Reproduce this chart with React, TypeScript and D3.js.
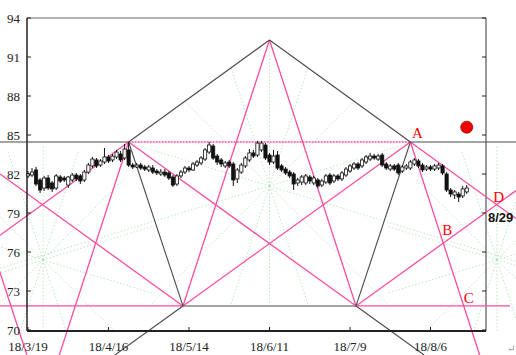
import React from 'react';
import * as d3 from 'd3';

const W = 516;
const H = 355;

// x axis: trading-day index, labelled every 20 sessions
const tickIndex = [0, 20, 40, 60, 80, 100];
const tickDates = ['18/3/19', '18/4/16', '18/5/14', '18/6/11', '18/7/9', '18/8/6'];
const yTicks = [70, 73, 76, 79, 82, 85, 88, 91, 94];

const opens = [81.85, 81.92, 82.31, 81.54, 80.92, 81.69, 81.31, 80.92, 81.77, 81.69,
  81.15, 81.54, 81.92, 81.85, 81.54, 82.15, 82.62, 83.08, 82.69, 82.92,
  83.31, 83.08, 83.31, 83.54, 83.23, 83.85, 82.69, 82.54, 82.69, 82.54,
  82.31, 82.46, 82.23, 82.0, 82.15, 82.08, 81.77, 81.23, 81.85, 82.15,
  82.46, 82.31, 82.69, 82.85, 83.15, 83.69, 84.15, 83.38, 83.08, 82.62,
  82.92, 82.77, 81.62, 82.15, 82.62, 83.08, 83.62, 83.46, 83.85, 84.23,
  83.46, 82.92, 83.46, 82.62, 82.38, 82.15, 82.0, 81.31, 81.38, 81.31,
  81.77, 81.31, 81.54, 81.15, 81.38, 81.92, 81.46, 81.85, 81.62, 81.92,
  82.23, 82.46, 82.77, 82.62, 82.92, 83.15, 83.38, 83.15, 83.46, 82.77,
  82.38, 82.62, 82.69, 82.23, 82.46, 82.46, 82.77, 83.0, 82.69, 82.38,
  82.54, 82.38, 82.46, 82.62, 82.0, 80.77, 80.38, 80.46, 80.31, 80.62];
const closes = [82.0, 82.15, 81.23, 80.77, 81.69, 80.92, 80.85, 81.85, 81.46, 81.54,
  81.77, 81.92, 81.62, 81.46, 82.15, 82.69, 83.15, 82.62, 83.0, 83.31,
  83.0, 83.38, 83.69, 83.08, 83.92, 82.69, 82.54, 82.69, 82.46, 82.38,
  82.54, 82.15, 82.08, 82.15, 81.92, 81.69, 81.15, 81.85, 82.15, 82.46,
  82.31, 82.77, 82.92, 83.23, 83.85, 84.23, 83.23, 82.92, 82.77, 82.85,
  82.62, 81.54, 82.31, 82.69, 83.23, 83.62, 83.38, 84.38, 84.38, 83.23,
  82.92, 83.38, 82.46, 82.31, 82.08, 81.85, 81.23, 81.54, 81.77, 81.85,
  81.46, 81.69, 81.08, 81.46, 81.85, 81.31, 81.85, 81.62, 82.08, 82.38,
  82.62, 82.77, 82.46, 83.08, 83.31, 83.38, 83.23, 83.38, 82.69, 82.46,
  82.62, 82.38, 82.08, 82.54, 82.62, 82.92, 83.08, 82.62, 82.31, 82.54,
  82.38, 82.62, 82.69, 82.08, 80.77, 80.46, 80.62, 80.23, 80.85, 80.92];
const highs = [82.23, 82.46, 82.54, 81.69, 81.85, 81.92, 81.46, 82.0, 81.92, 81.85,
  81.85, 82.08, 82.08, 82.0, 82.31, 82.85, 83.31, 83.23, 83.15, 84.0,
  83.46, 83.54, 83.85, 83.77, 84.31, 84.46, 82.85, 82.85, 82.85, 82.69,
  82.69, 82.69, 82.38, 82.38, 82.38, 82.23, 81.92, 82.0, 82.31, 82.62,
  82.62, 82.92, 83.08, 83.38, 84.0, 84.46, 84.31, 83.54, 83.23, 83.0,
  83.08, 82.92, 82.46, 82.85, 83.38, 83.92, 83.85, 84.54, 84.54, 84.38,
  83.62, 83.85, 83.77, 82.77, 82.54, 82.31, 82.15, 81.69, 81.92, 82.0,
  81.92, 81.85, 81.69, 81.62, 82.0, 82.08, 82.0, 82.0, 82.23, 82.54,
  82.77, 82.92, 82.92, 83.23, 83.46, 83.62, 83.54, 83.54, 83.62, 82.92,
  82.77, 82.77, 82.85, 82.69, 82.77, 83.08, 83.23, 83.15, 82.85, 82.69,
  82.69, 82.77, 82.85, 82.77, 82.15, 80.92, 80.77, 80.62, 81.08, 81.15];
const lows = [81.69, 81.77, 81.08, 80.54, 80.69, 80.77, 80.62, 80.77, 81.31, 81.38,
  80.92, 81.38, 81.46, 81.23, 81.38, 82.0, 82.46, 82.46, 82.54, 82.77,
  82.85, 82.92, 83.15, 82.92, 83.08, 82.54, 82.38, 82.46, 82.31, 82.23,
  82.15, 82.0, 81.92, 81.85, 81.77, 81.54, 81.0, 81.08, 81.69, 82.0,
  82.15, 82.23, 82.54, 82.69, 83.0, 83.54, 83.08, 82.69, 82.54, 82.46,
  82.46, 81.08, 81.31, 82.0, 82.46, 82.92, 83.23, 83.31, 83.69, 83.08,
  82.69, 82.77, 82.31, 82.15, 81.92, 81.69, 80.77, 81.08, 81.15, 81.15,
  81.23, 81.15, 80.92, 81.0, 81.23, 81.15, 81.31, 81.46, 81.46, 81.77,
  82.08, 82.31, 82.31, 82.46, 82.77, 83.0, 83.08, 83.0, 82.54, 82.31,
  82.23, 82.23, 81.92, 82.08, 82.31, 82.31, 82.62, 82.46, 82.15, 82.23,
  82.23, 82.23, 82.31, 81.92, 80.62, 80.23, 80.08, 79.85, 80.15, 80.46];

// pattern anchor points (trading index, price)
const peakIdx = [25, 95];
const peakPrice = 84.46;
const topIdx = 60;
const topPrice = 92.31;
const bottomIdx = [38.5, 81.5];
const bottomPrice = 71.85;
const starIdx = [3.75, 60, 116.5];
const starPrice = [75.4, 81.08, 75.4];
const targetDot = { i: 109, p: 85.6 };
const dateNote = '8/29';

const x = d3.scaleLinear().domain([0, 100]).range([28, 430.5]);
const y = d3.scaleLinear().domain([70, 94]).range([330, 18]);

type P = [number, number];
const pt = (i: number, p: number): P => [x(i), y(p)];

const P1 = pt(peakIdx[0], peakPrice);
const A = pt(peakIdx[1], peakPrice);
const T = pt(topIdx, topPrice);
const L1 = pt(bottomIdx[0], bottomPrice);
const L2 = pt(bottomIdx[1], bottomPrice);
const S = starIdx.map((i, k) => pt(i, starPrice[k]));

const sub = (a: P, b: P): P => [a[0] - b[0], a[1] - b[1]];
function rayToBounds(p: P, d: P): P {
  let t = Infinity;
  if (d[0] > 0) t = Math.min(t, (W - p[0]) / d[0]);
  if (d[0] < 0) t = Math.min(t, -p[0] / d[0]);
  if (d[1] > 0) t = Math.min(t, (H - p[1]) / d[1]);
  if (d[1] < 0) t = Math.min(t, -p[1] / d[1]);
  return [p[0] + d[0] * t, p[1] + d[1] * t];
}
function intersect(p: P, d: P, q: P, e: P): P {
  const den = d[0] * e[1] - d[1] * e[0];
  const t = ((q[0] - p[0]) * e[1] - (q[1] - p[1]) * e[0]) / den;
  return [p[0] + d[0] * t, p[1] + d[1] * t];
}

const yPeak = P1[1];
const yLow = L1[1];
const roof = (xx: number) => {
  if (xx >= P1[0] && xx <= A[0]) {
    return xx <= T[0]
      ? P1[1] + ((xx - P1[0]) / (T[0] - P1[0])) * (T[1] - P1[1])
      : T[1] + ((xx - T[0]) / (A[0] - T[0])) * (A[1] - T[1]);
  }
  return yPeak;
};

function starRay(c: P, deg: number, maxLen: number, topFn: (x: number) => number, bottomY: number): P {
  const a = (deg * Math.PI) / 180;
  const dx = Math.cos(a), dy = -Math.sin(a);
  let t = 0;
  while (t < maxLen) {
    const nx = c[0] + dx * (t + 0.5), ny = c[1] + dy * (t + 0.5);
    if (nx < 0 || nx > W || ny < topFn(nx) - 0.01 || ny > bottomY) break;
    t += 0.5;
  }
  return [c[0] + dx * t, c[1] + dy * t];
}
const starAngles = [17, 45, 72, 90, 108, 135, 163, 197, 225, 252, 270, 288, 315, 343];

const mirrorP1: P = [2 * S[0][0] - P1[0], P1[1]];

const pinkSegs: [P, P][] = [
  [P1, rayToBounds(P1, sub(P1, T))],
  [A, rayToBounds(A, sub(A, T))],
  [A, L1],
  [P1, L2],
  [L1, rayToBounds(L1, sub(P1, L2))],
  [L2, rayToBounds(L2, sub(A, L1))],
  [T, L1],
  [T, L2],
  [P1, rayToBounds(P1, sub(L1, T))],
  [A, rayToBounds(A, sub(L2, T))],
  [mirrorP1, rayToBounds(mirrorP1, sub(L2, T))],
  [[0, yLow], L1],
  [L2, [510, yLow]],
];
const graySegs: [P, P][] = [
  [P1, T],
  [T, A],
  [P1, L1],
  [A, L2],
  [L1, rayToBounds(L1, sub(L1, A))],
  [L2, rayToBounds(L2, sub(L2, P1))],
  [[0, yPeak], P1],
  [A, [W, yPeak]],
  [L1, L2],
];

const B = intersect(A, sub(L2, T), L2, sub(A, L1));
const Cpt = intersect(A, sub(L2, T), L1, [1, 0]);
const D = intersect(A, sub(A, T), L2, sub(A, L1));

export default function App() {
  const greens: [P, P][] = [];
  S.forEach((c, k) => {
    starAngles.forEach((ang) => {
      const e = k === 1
        ? starRay(c, ang, 700, roof, yLow)
        : starRay(c, ang, 115, () => yPeak, 331);
      greens.push([c, e]);
    });
  });

  const serif = 'Liberation Serif, DejaVu Serif, serif';
  const pink = '#fa4d9e';
  const gray = '#4a4a4a';

  return (
    <svg width={W} height={H} style={{ position: 'absolute', left: 0, top: 0, background: '#fff' }}>
      <rect x={0} y={0} width={W} height={H} fill="#fff" />
      {/* green guide stars */}
      <g stroke="#a9e3b0" strokeWidth={0.8} strokeDasharray="1.5,2" fill="none">
        {greens.map((s, k) => (
          <line key={k} x1={s[0][0]} y1={s[0][1]} x2={s[1][0]} y2={s[1][1]} />
        ))}
      </g>
      {/* frame */}
      <line x1={27} y1={18} x2={486} y2={18} stroke="#666" strokeWidth={1.2} />
      <line x1={486} y1={18} x2={486} y2={331} stroke="#555" strokeWidth={1.2} />
      {/* pink lines */}
      <g stroke={pink} strokeWidth={1.3} fill="none">
        {pinkSegs.map((s, k) => (
          <line key={k} x1={s[0][0]} y1={s[0][1]} x2={s[1][0]} y2={s[1][1]} />
        ))}
        <line x1={P1[0]} y1={yPeak} x2={A[0]} y2={yPeak} strokeDasharray="2,1" />
      </g>
      {/* gray lines */}
      <g stroke={gray} strokeWidth={1.1} fill="none">
        {graySegs.map((s, k) => (
          <line key={k} x1={s[0][0]} y1={s[0][1]} x2={s[1][0]} y2={s[1][1]} />
        ))}
      </g>
      {/* axes */}
      <line x1={27} y1={18} x2={27} y2={331} stroke="#222" strokeWidth={1.5} />
      <line x1={27} y1={331} x2={486} y2={331} stroke="#222" strokeWidth={2} />
      {yTicks.map((v) => (
        <g key={v}>
          <line x1={27} x2={31} y1={y(v)} y2={y(v)} stroke="#222" />
          <line x1={482} x2={486} y1={y(v)} y2={y(v)} stroke="#222" />
          <text x={20} y={y(v) + 4.5} textAnchor="end" fontFamily={serif} fontSize={13} fill="#222">{v}</text>
        </g>
      ))}
      {tickIndex.map((ti, k) => (
        <g key={ti}>
          <line x1={x(ti)} x2={x(ti)} y1={327} y2={331} stroke="#222" />
          <text x={x(ti)} y={351} textAnchor="middle" fontFamily={serif} fontSize={13} fill="#222">{tickDates[k]}</text>
        </g>
      ))}
      {/* candles */}
      <g>
        {opens.map((o, i) => {
          const c = closes[i];
          const cx = x(i);
          const up = c >= o;
          const top = y(Math.max(o, c));
          const bot = y(Math.min(o, c));
          return (
            <g key={i}>
              <line x1={cx} x2={cx} y1={y(highs[i])} y2={y(lows[i])} stroke="#111" strokeWidth={1} />
              <rect x={cx - 1.6} y={top} width={3.2} height={Math.max(bot - top, 1)}
                fill={up ? '#fff' : '#111'} stroke="#111" strokeWidth={0.8} />
            </g>
          );
        })}
      </g>
      {/* annotations */}
      <circle cx={x(targetDot.i)} cy={y(targetDot.p)} r={6} fill="#ee0000" stroke="#a00" strokeWidth={0.8} />
      <g fontFamily={serif} fontSize={15} fill="#ff0000">
        <text x={A[0] + 7} y={A[1] - 4} textAnchor="middle">A</text>
        <text x={B[0] + 4} y={B[1] - 8} textAnchor="middle">B</text>
        <text x={Cpt[0] + 5} y={Cpt[1] - 3} textAnchor="middle">C</text>
        <text x={D[0] + 2} y={D[1] - 3} textAnchor="middle">D</text>
      </g>
      <text x={D[0] + 4} y={222} textAnchor="middle" fontFamily="Liberation Sans, Arial, sans-serif"
        fontWeight="bold" fontSize={13} fill="#111">{dateNote}</text>
      <text x={507} y={352} fontFamily={serif} fontSize={10} fill="#999">↵</text>
    </svg>
  );
}
